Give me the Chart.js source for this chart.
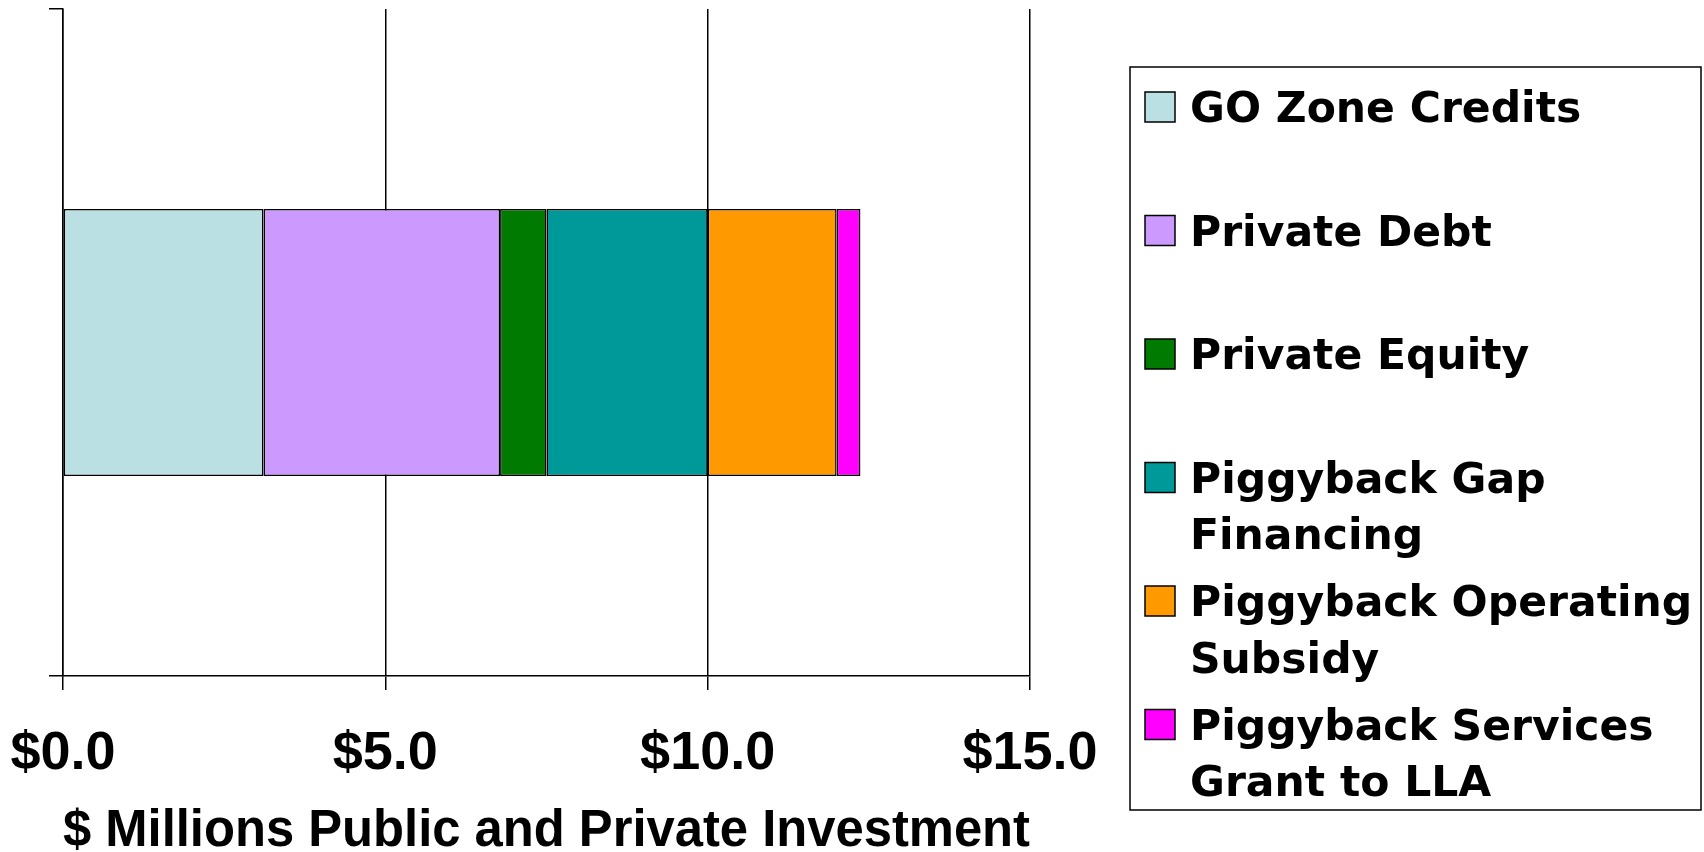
<!DOCTYPE html>
<html>
<head>
<meta charset="utf-8">
<script src="https://cdn.jsdelivr.net/npm/chart.js@4"></script>
<style>
  html, body { margin: 0; padding: 0; background: #fff; }
  #wrap { width: 1704px; height: 852px; }
</style>
</head>
<body>
<div id="wrap"><canvas id="investChart" width="1704" height="852"></canvas></div>
<script>
// one stacked bar, $ millions
const categories = [""];
const seriesNames = [
  ["GO Zone Credits"],
  ["Private Debt"],
  ["Private Equity"],
  ["Piggyback Gap", "Financing"],
  ["Piggyback Operating", "Subsidy"],
  ["Piggyback Services", "Grant to LLA"]
];
const seriesValues = [3.11, 3.67, 0.72, 2.50, 2.00, 0.37];
const seriesColors = ["#BBE0E3", "#CC99FF", "#007A00", "#009999", "#FF9900", "#FF00FF"];
const xTicks = [0, 5, 10, 15];

const tickFont = "'Liberation Sans Narrow', 'Arial Narrow', 'Liberation Sans', sans-serif";
const legendFont = "'DejaVu Sans', Verdana, sans-serif";

// legend drawn by hand, labels wrap over two lines
const boxLegend = {
  id: "boxLegend",
  afterDraw(chart) {
    const ctx = chart.ctx;
    ctx.save();
    ctx.strokeStyle = "#000";
    ctx.lineWidth = 1.5;
    ctx.strokeRect(1130, 67, 571, 743);
    ctx.font = "bold 42.5px " + legendFont;
    ctx.textBaseline = "middle";
    chart.data.datasets.forEach((ds, i) => {
      const y = 107 + i * 123.5;
      ctx.fillStyle = ds.backgroundColor;
      ctx.fillRect(1145, y - 15, 30, 30);
      ctx.strokeRect(1145, y - 15, 30, 30);
      ctx.fillStyle = "#000";
      ds.lines.forEach((line, j) => ctx.fillText(line, 1190, y + 4 + j * 56.5));
    });
    ctx.restore();
  }
};

const datasets = seriesNames.map((name, i) => ({
  label: name.join(" "),
  lines: name,
  data: [seriesValues[i]],
  backgroundColor: seriesColors[i],
  borderColor: "#000",
  borderWidth: 1.5,
  borderSkipped: false,
  barPercentage: 0.4,
  categoryPercentage: 1.0
}));

new Chart(document.getElementById("investChart"), {
  type: "bar",
  data: { labels: categories, datasets: datasets },
  plugins: [boxLegend],
  options: {
    indexAxis: "y",
    responsive: false,
    animation: false,
    layout: { padding: { top: 9, right: 674, left: 0, bottom: 0 } },
    plugins: {
      legend: { display: false },
      tooltip: { enabled: false }
    },
    scales: {
      x: {
        stacked: true,
        min: 0,
        max: 15,
        afterBuildTicks: (scale) => { scale.ticks = xTicks.map(v => ({ value: v })); },
        afterFit: (scale) => {
          scale.height = 176;
          scale.paddingLeft = 0;
          scale.paddingRight = 0;
        },
        grid: { color: "#000", lineWidth: 1.5, tickLength: 14, drawTicks: true },
        border: { color: "#000", width: 1.5 },
        ticks: {
          color: "#000",
          padding: 32,
          maxRotation: 0,
          font: { family: tickFont, weight: "bold", size: 54 },
          callback: (v) => "$" + Number(v).toFixed(1)
        },
        title: {
          display: true,
          text: "$ Millions Public and Private Investment",
          color: "#000",
          padding: { top: 0, bottom: 0 },
          font: { family: tickFont, weight: "bold", size: 51, lineHeight: 0.8 }
        }
      },
      y: {
        stacked: true,
        offset: true,
        afterFit: (scale) => { scale.width = 63; },
        grid: { offset: true, drawOnChartArea: false, color: "#000", lineWidth: 1.5, tickLength: 14 },
        border: { color: "#000", width: 1.5 },
        ticks: { display: true, color: "#000", padding: 0, font: { size: 1 } }
      }
    }
  }
});
</script>
</body>
</html>
